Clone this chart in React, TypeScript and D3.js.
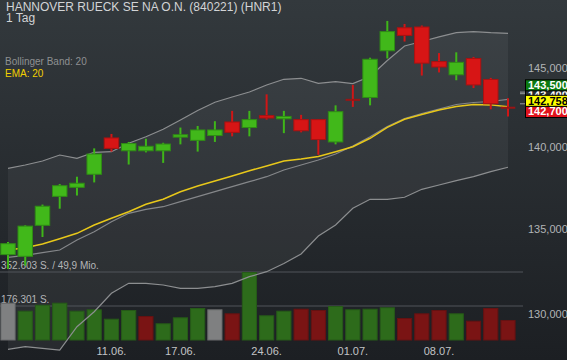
import React, { useEffect } from 'react';
import * as d3 from 'd3';

const dates = ['31.05.', '03.06.', '04.06.', '05.06.', '06.06.', '07.06.', '11.06.', '12.06.', '13.06.', '14.06.',
  '17.06.', '18.06.', '19.06.', '20.06.', '21.06.', '24.06.', '25.06.', '26.06.', '27.06.', '28.06.',
  '01.07.', '02.07.', '03.07.', '04.07.', '05.07.', '08.07.', '09.07.', '10.07.', '11.07.', '12.07.'];
const open = [133700, 133600, 135450, 137200, 137750, 138550, 140800, 140000, 140000, 140000,
  140850, 140650, 140950, 141800, 141450, 142200, 142000, 141950, 141950, 140550,
  143200, 143350, 146350, 147850, 147900, 145650, 144800, 145850, 144500, 142700];
const high = [134450, 135450, 136700, 137950, 138400, 140150, 141050, 140550, 140750, 140500,
  141450, 141550, 141850, 142500, 142500, 143550, 142500, 142250, 141970, 142850,
  144150, 145900, 148300, 148100, 148000, 146200, 146250, 145950, 144600, 143300];
const low = [132850, 133050, 134750, 136450, 137250, 138050, 139950, 139150, 139900, 139250,
  140400, 139950, 140550, 140900, 140900, 141950, 141100, 141150, 139750, 140400,
  142750, 142850, 145850, 146950, 144750, 144950, 144450, 143950, 142600, 142150];
const close = [134350, 135400, 136600, 137850, 138000, 139800, 140150, 140450, 140280, 140420,
  141000, 141300, 141300, 141150, 141950, 142050, 142150, 141250, 140700, 142450,
  143200, 145800, 147600, 147350, 145550, 145300, 145600, 144150, 142950, 142700];
const volume = [193400, 151900, 183000, 193400, 151900, 159200, 110400, 155600, 124400, 86600,
  117700, 165900, 159200, 138400, 352603, 128100, 151900, 162300, 155600, 176300,
  159200, 162300, 169600, 114100, 138400, 155600, 138400, 100100, 165900, 103700];
const bbUpper = [138918, 139121, 139368, 139739, 139535, 139907, 139944, 140466, 140878, 141341,
  141925, 142524, 143044, 143380, 143699, 144146, 144511, 144574, 144253, 144356,
  144240, 144689, 145720, 146660, 146954, 147249, 147529, 147596, 147529, 147488];
const bbMiddle = [133542, 133661, 133815, 133975, 134569, 135066, 135667, 136172, 136415, 136571,
  136875, 137179, 137484, 137789, 138096, 138401, 138813, 139121, 139430, 139801,
  140298, 140878, 141517, 142020, 142335, 142620, 142904, 143031, 143094, 143234];
const bbLower = [128202, 128351, 128260, 128163, 129494, 130358, 131428, 132010, 132010, 131912,
  131719, 131719, 131812, 132010, 132398, 132692, 133175, 133738, 134809, 135468,
  136475, 137021, 137021, 137143, 137630, 137893, 138156, 138401, 138708, 138980];
const ema20 = [133975, 134111, 134332, 134648, 134970, 135468, 135871, 136269, 136717, 137021,
  137484, 137832, 138138, 138443, 138771, 139059, 139368, 139492, 139646, 139944,
  140255, 140778, 141467, 141970, 142272, 142556, 142780, 142900, 142880, 142758];

const xTickLabels = ['11.06.', '17.06.', '24.06.', '01.07.', '08.07.'];
const priceTicks = [145000, 140000, 135000, 130000];
const volumeGridValues = [352603, 176301];
const volumeGridTexts = ['352.603 S. / 49,9 Mio.', '176.301 S.'];

const title = 'HANNOVER RUECK SE NA O.N. (840221) (HNR1)';
const subtitle = '1 Tag';
const legendBB = 'Bollinger Band: 20';
const legendEMA = 'EMA: 20';

// right-side value labels (drawn in this order)
const labelValues = [143400, 142700, 143500, 142758];
const labelTexts = ['143,400', '142,700', '143,500', '142,758'];
const labelFills = ['#2a2d30', '#e0121c', '#0b7a10', '#ffff00'];
const labelTextFills = ['#ffffff', '#ffffff', '#ffffff', '#000000'];
const labelShift = [-2, 4.3, -9.8, -6];
const labelTextShift = [4, 2.5, 4, 4];

const FONT = '"Liberation Sans", Arial, sans-serif';

export default function App() {
  useEffect(() => {
    document.body.style.margin = '0';
  }, []);

  const W = 567;
  const H = 360;
  const x = d3.scalePoint<string>().domain(dates).range([8, 508]);
  const step = x.step();
  const y = d3.scaleLog().domain([127596, 149682]).range([360, 0]);
  const yv = d3.scaleLinear().domain([0, 352603]).range([340, 272]);

  const idx = d3.range(dates.length);
  const cx = (i: number) => x(dates[i]) as number;

  const bandArea = d3.area<number>()
    .x((i) => cx(i))
    .y0((i) => y(bbLower[i]))
    .y1((i) => y(bbUpper[i]));
  const lineOf = (arr: number[]) => d3.line<number>().x((i) => cx(i)).y((i) => y(arr[i]))(idx) as string;

  const bodyW = step * 0.84;
  const volW = step * 0.88;

  return (
    <svg width={W} height={H} style={{ position: 'absolute', left: 0, top: 0, display: 'block' }} fontFamily={FONT}>
      <defs>
        <linearGradient id="bg" x1="0" y1="0" x2="0" y2="1">
          <stop offset="0" stopColor="#33393d" />
          <stop offset="1" stopColor="#1c1f23" />
        </linearGradient>
      </defs>
      <rect x={0} y={0} width={W} height={H} fill="url(#bg)" />
      <path d={bandArea(idx) as string} fill="#ffffff" fillOpacity={0.05} />

      {/* volume grid */}
      {volumeGridValues.map((v, k) => (
        <g key={'vg' + k}>
          <line x1={0} x2={523} y1={yv(v)} y2={yv(v)} stroke="#50555a" strokeWidth={1} />
          <text x={1} y={yv(v) - 3} fontSize={10} fill="#b4b6b8">{volumeGridTexts[k]}</text>
        </g>
      ))}

      {/* volume bars */}
      {idx.map((i) => {
        const up = i > 0 && close[i] > close[i - 1];
        const down = i > 0 && close[i] < close[i - 1];
        const fill = up ? '#2d6b1b' : down ? '#7a1414' : '#7f8081';
        const stroke = up ? '#265a18' : down ? '#651212' : '#6a6b6c';
        return (
          <rect key={'v' + i} x={cx(i) - volW / 2 + 0.5} y={yv(volume[i]) + 0.5} width={volW - 1}
            height={yv(0) - yv(volume[i]) - 0.5} fill={fill} stroke={stroke} strokeWidth={1} />
        );
      })}

      {/* indicators */}
      <path d={lineOf(bbUpper)} fill="none" stroke="#8c8e90" strokeWidth={1.2} />
      <path d={lineOf(bbLower)} fill="none" stroke="#8c8e90" strokeWidth={1.2} />
      <path d={lineOf(bbMiddle)} fill="none" stroke="#85878a" strokeWidth={1.2} />
      <path d={lineOf(ema20)} fill="none" stroke="#e8c81a" strokeWidth={1.5} />

      {/* candles */}
      {idx.map((i) => {
        const o = open[i], c = close[i];
        const isUp = c > o;
        const isDoji = c === o;
        const wickColor = isUp ? '#3fb619' : '#d01616';
        const bodyFill = isUp ? '#41b81a' : '#d71515';
        const bodyStroke = isUp ? '#2f8c15' : '#a81212';
        const xc = cx(i);
        return (
          <g key={'c' + i}>
            <line x1={xc} x2={xc} y1={y(high[i])} y2={y(low[i])} stroke={wickColor} strokeWidth={2} />
            {isDoji ? (
              <line x1={xc - bodyW / 2} x2={xc + bodyW / 2} y1={y(c)} y2={y(c)} stroke="#9a1414" strokeWidth={2} />
            ) : (
              <rect x={xc - bodyW / 2} y={y(Math.max(o, c))} width={bodyW}
                height={Math.max(1.5, y(Math.min(o, c)) - y(Math.max(o, c)))}
                fill={bodyFill} stroke={bodyStroke} strokeWidth={1} />
            )}
          </g>
        );
      })}

      {/* price axis labels */}
      {priceTicks.map((p) => (
        <text key={'p' + p} x={528} y={y(p)} fontSize={11} fill="#b2b4b6">
          {d3.format(',')(p)}
        </text>
      ))}

      {/* right value labels */}
      {labelValues.map((v, k) => {
        const yc = y(v) + labelShift[k];
        return (
          <g key={'lb' + k}>
            {k !== 1 && (
              <line x1={520} x2={525} y1={y(v) - 3} y2={y(v) - 3} stroke="#9a9c9e" strokeWidth={1} />
            )}
            <rect x={525.5} y={yc - 5.5} width={45} height={11} fill={labelFills[k]} stroke="#000" strokeWidth={1} />
            <text x={528} y={yc + labelTextShift[k]} fontSize={11} fontWeight="bold" fill={labelTextFills[k]}>{labelTexts[k]}</text>
          </g>
        );
      })}

      {/* x axis labels */}
      {xTickLabels.map((d) => (
        <text key={'x' + d} x={cx(dates.indexOf(d))} y={355} fontSize={11} textAnchor="middle" fill="#c2c4c6">{d}</text>
      ))}

      {/* titles */}
      <text x={6} y={10.7} fontSize={12} fill="#d2d4d6">{title}</text>
      <text x={6} y={21.5} fontSize={12} fill="#d2d4d6">{subtitle}</text>
      <text x={5} y={64.5} fontSize={10} fill="#8e9092">{legendBB}</text>
      <text x={5} y={77} fontSize={10} fill="#f2d000">{legendEMA}</text>
    </svg>
  );
}
